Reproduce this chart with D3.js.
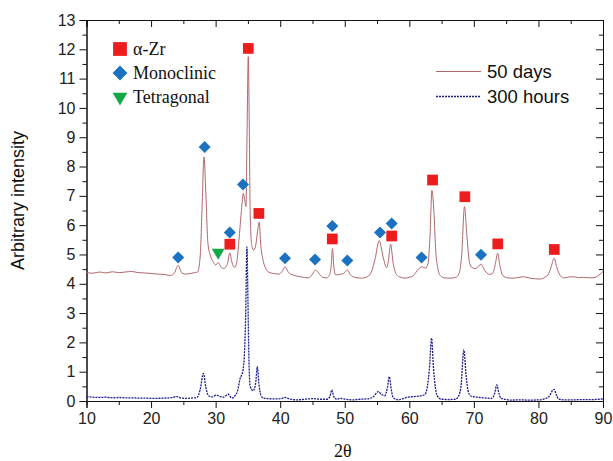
<!DOCTYPE html>
<html>
<head>
<meta charset="utf-8">
<script src="https://cdn.jsdelivr.net/npm/d3@7"></script>
<style>
  body { margin: 0; background: #fff; }
  svg { display: block; }
  .tick text { font-family: "Liberation Sans", Arial, sans-serif; font-size: 16px; fill: #222; }
</style>
</head>
<body>
<svg width="613" height="461"></svg>
<script>
// XRD patterns, [2theta, intensity]
const days50 = [
  [10,4.38],[11,4.36],[12,4.40],[13,4.37],[14,4.41],[15,4.38],[16,4.40],[17,4.42],[18,4.38],[19,4.37],
  [20,4.35],[21,4.33],[22,4.32],[23,4.28],[23.6,4.36],[24.2,4.63],[24.8,4.36],[25.5,4.33],[26.5,4.37],
  [27.2,4.40],[27.6,4.9],[27.9,6.6],[28.2,8.33],[28.5,7.0],[28.8,5.4],[29.2,4.95],[29.6,4.76],[30.0,4.64],
  [30.4,4.72],[30.8,4.58],[31.3,4.52],[31.8,4.66],[32.2,5.05],[32.5,4.75],[33.0,4.56],[33.4,4.95],
  [33.7,5.72],[34.0,6.5],[34.3,7.09],[34.5,6.85],[34.7,6.63],[34.85,8.8],[35.06,11.75],[35.2,9.6],
  [35.35,6.5],[35.6,5.3],[35.9,5.15],[36.2,5.3],[36.5,5.8],[36.75,6.1],[37.0,5.3],[37.3,4.85],[37.7,4.55],
  [38.2,4.4],[39.0,4.35],[39.8,4.33],[40.3,4.42],[40.75,4.58],[41.3,4.38],[42.0,4.30],[43.1,4.24],
  [44.4,4.2],[45.0,4.33],[45.5,4.47],[46.0,4.35],[46.6,4.22],[47.2,4.2],[47.6,4.28],[47.9,4.6],
  [48.1,5.2],[48.3,4.6],[48.6,4.30],[49.2,4.32],[49.8,4.35],[50.4,4.47],[50.9,4.3],[51.6,4.22],
  [52.6,4.19],[53.5,4.24],[54.2,4.45],[54.7,4.85],[55.35,5.47],[55.9,4.95],[56.5,4.55],[56.8,4.85],
  [57.1,5.35],[57.5,4.70],[58.0,4.32],[58.7,4.22],[59.3,4.19],[60.0,4.22],[60.6,4.27],[61.4,4.50],
  [62.0,4.58],[62.5,4.53],[62.9,4.7],[63.2,5.6],[63.5,7.18],[63.8,6.5],[64.1,5.1],[64.4,4.55],
  [64.8,4.28],[65.5,4.2],[66.3,4.19],[67.2,4.22],[67.7,4.35],[68.1,4.95],[68.55,6.63],[68.9,5.7],
  [69.3,4.75],[69.7,4.55],[70.3,4.52],[71.1,4.67],[71.7,4.45],[72.4,4.32],[72.9,4.35],[73.3,4.65],
  [73.7,5.04],[74.0,4.65],[74.5,4.28],[75.3,4.2],[76.1,4.19],[77.0,4.22],[77.7,4.24],[78.7,4.19],
  [79.5,4.17],[80.2,4.16],[81.0,4.22],[81.6,4.35],[82.0,4.6],[82.45,4.87],[82.8,4.6],[83.2,4.35],
  [83.9,4.2],[84.7,4.23],[85.4,4.24],[86.2,4.21],[87.0,4.22],[88.0,4.20],[88.8,4.22],[89.4,4.30],[90,4.42]
];

const hours300 = [
  [10,0.15],[11,0.13],[12,0.12],[13,0.13],[14,0.11],[15,0.12],[16,0.11],[17,0.11],[18,0.10],[19,0.10],
  [20,0.09],[21,0.09],[22,0.10],[23,0.11],[24,0.15],[24.7,0.10],[25.5,0.09],[26.3,0.10],[27.1,0.12],
  [27.6,0.38],[28.1,0.94],[28.5,0.45],[28.9,0.18],[29.5,0.14],[30.1,0.20],[30.6,0.16],[31.2,0.13],
  [31.95,0.23],[32.5,0.10],[33.0,0.18],[33.4,0.35],[33.8,0.77],[34.2,1.0],[34.5,1.8],[34.65,2.9],
  [34.85,5.26],[35.0,3.5],[35.15,1.5],[35.35,0.5],[35.8,0.35],[36.2,0.6],[36.45,1.17],[36.7,0.6],
  [37.0,0.2],[37.4,0.1],[38.2,0.08],[39.0,0.07],[40.0,0.08],[40.75,0.12],[41.5,0.07],[42.6,0.04],
  [43.8,0.06],[45.1,0.08],[46.2,0.06],[47.2,0.06],[47.7,0.15],[48.0,0.38],[48.3,0.15],[48.75,0.06],
  [49.3,0.09],[50.2,0.06],[51.3,0.04],[52.4,0.06],[53.4,0.07],[54.4,0.14],[55.2,0.32],[55.7,0.22],
  [56.2,0.18],[56.6,0.45],[56.9,0.83],[57.2,0.4],[57.5,0.12],[58.3,0.04],[59.0,0.08],[59.6,0.12],
  [60.6,0.15],[61.65,0.17],[62.4,0.22],[62.8,0.5],[63.1,1.06],[63.45,2.14],[63.75,1.1],[64.05,0.45],
  [64.3,0.18],[65.0,0.06],[66.0,0.05],[67.1,0.06],[67.7,0.2],[68.0,0.5],[68.45,1.74],[68.8,0.85],
  [69.1,0.35],[69.5,0.17],[70.2,0.14],[70.95,0.12],[71.9,0.10],[72.8,0.09],[73.2,0.25],[73.55,0.55],
  [73.9,0.25],[74.2,0.09],[75.0,0.05],[75.6,0.03],[77.0,0.04],[78.5,0.03],[80.2,0.04],[81.0,0.08],
  [81.6,0.14],[82.4,0.40],[82.8,0.2],[83.1,0.07],[84.0,0.04],[85.4,0.04],[87.0,0.05],[88.5,0.05],[90,0.07]
];

// phase markers [2theta, intensity]
const alphaZr = [[32.2,5.35],[35.06,12.03],[36.7,6.4],[48.07,5.53],[57.27,5.63],[63.6,7.54],[68.6,6.97],[73.7,5.36],[82.45,5.17]];
const monoclinic = [[24.2,4.90],[28.3,8.67],[32.2,5.75],[34.24,7.39],[40.75,4.87],[45.4,4.83],[48.07,5.97],[50.4,4.79],[55.46,5.75],[57.27,6.06],[61.9,4.90],[71.1,4.99]];
const tetragonal = [[30.4,5.07]];

const phaseNames = ["\u03b1-Zr", "Monoclinic", "Tetragonal"];
const seriesNames = ["50 days", "300 hours"];

const margin = { top: 20, right: 10, bottom: 60, left: 86.5 },
    width = 613 - margin.left - margin.right,
    height = 461 - margin.top - margin.bottom;

const x = d3.scaleLinear().domain([10, 90]).range([0, width]);
const y = d3.scaleLinear().domain([0, 13]).range([height, 0]);

const svg = d3.select("svg")
    .append("g")
    .attr("transform", "translate(" + margin.left + "," + margin.top + ")");

const red = "#ee1c1c", blue = "#1a72c0", green = "#14a84a";

// minor ticks first (no labels)
svg.append("g")
    .attr("transform", "translate(0," + height + ")")
    .call(d3.axisBottom(x).tickValues(d3.range(15, 90, 10)).tickSize(4).tickFormat(""));
svg.append("g")
    .call(d3.axisLeft(y).tickValues(d3.range(0.5, 13, 1)).tickSize(4).tickFormat(""));
svg.append("g")
    .call(d3.axisTop(x).tickValues(d3.range(15, 90, 10)).tickSize(-4).tickFormat(""));
svg.append("g")
    .attr("transform", "translate(" + width + ",0)")
    .call(d3.axisRight(y).tickValues(d3.range(0.5, 13, 1)).tickSize(-4).tickFormat(""));

// major ticks
svg.append("g")
    .attr("transform", "translate(0," + height + ")")
    .call(d3.axisBottom(x).tickValues(d3.range(10, 91, 10)).tickSize(7).tickPadding(5));
svg.append("g")
    .call(d3.axisLeft(y).tickValues(d3.range(0, 14, 1)).tickSize(7).tickPadding(4));
svg.append("g")
    .call(d3.axisTop(x).tickValues(d3.range(10, 91, 10)).tickSize(-7).tickFormat(""));
svg.append("g")
    .attr("transform", "translate(" + width + ",0)")
    .call(d3.axisRight(y).tickValues(d3.range(0, 14, 1)).tickSize(-7).tickFormat(""));

svg.selectAll(".domain").attr("stroke", "#111");
svg.selectAll(".tick line").attr("stroke", "#111");

// curves
const line = d3.line()
    .curve(d3.curveMonotoneX)
    .x(function(d) { return x(d[0]) })
    .y(function(d) { return y(d[1]) });

svg.append("path")
    .datum(days50)
    .attr("fill", "none")
    .attr("stroke", "#b1676c")
    .attr("stroke-width", 1)
    .attr("d", line);

svg.append("path")
    .datum(hours300)
    .attr("fill", "none")
    .attr("stroke", "#1c1c8c")
    .attr("stroke-width", 1.3)
    .attr("stroke-dasharray", "2,1")
    .attr("d", line);

// phase markers
const square = d3.symbol().type(d3.symbolSquare).size(115);
const diamond = d3.symbol().type(d3.symbolSquare).size(72);
const tri = d3.symbol().type(d3.symbolTriangle).size(70);

svg.selectAll(".zr").data(alphaZr).enter().append("path")
    .attr("d", square)
    .attr("fill", red)
    .attr("transform", function(d) { return "translate(" + x(d[0]) + "," + y(d[1]) + ")" });

svg.selectAll(".mono").data(monoclinic).enter().append("path")
    .attr("d", diamond)
    .attr("fill", blue)
    .attr("transform", function(d) { return "translate(" + x(d[0]) + "," + y(d[1]) + ") rotate(45)" });

svg.selectAll(".tet").data(tetragonal).enter().append("path")
    .attr("d", tri)
    .attr("fill", green)
    .attr("transform", function(d) { return "translate(" + x(d[0]) + "," + y(d[1]) + ") rotate(180)" });

// phase legend
const pl = svg.append("g").attr("transform", "translate(" + (120 - margin.left) + "," + (49 - margin.top) + ")");
pl.append("path").attr("d", d3.symbol().type(d3.symbolSquare).size(190)).attr("fill", red);
pl.append("path").attr("d", d3.symbol().type(d3.symbolSquare).size(110)).attr("fill", blue)
    .attr("transform", "translate(0,24) rotate(45)");
pl.append("path").attr("d", d3.symbol().type(d3.symbolTriangle).size(95)).attr("fill", green)
    .attr("transform", "translate(0,48) rotate(180)");
pl.selectAll("text").data(phaseNames).enter().append("text")
    .attr("x", 13)
    .attr("y", function(d, i) { return i * 24 + 6 })
    .attr("font-family", "'Liberation Serif', 'Times New Roman', serif")
    .attr("font-size", 18)
    .attr("fill", "#111")
    .text(function(d) { return d });

// series legend
const sl = svg.append("g").attr("transform", "translate(" + (436 - margin.left) + "," + (71.5 - margin.top) + ")");
sl.append("line").attr("x1", 0).attr("x2", 45).attr("y1", 0).attr("y2", 0)
    .attr("stroke", "#b1676c").attr("stroke-width", 1);
sl.append("line").attr("x1", 0).attr("x2", 45).attr("y1", 25).attr("y2", 25)
    .attr("stroke", "#1c1c8c").attr("stroke-width", 1.3).attr("stroke-dasharray", "2,1");
sl.selectAll("text").data(seriesNames).enter().append("text")
    .attr("x", 51)
    .attr("y", function(d, i) { return i * 25 + 6.5 })
    .attr("font-family", "'Liberation Sans', Arial, sans-serif")
    .attr("font-size", 18.5)
    .attr("fill", "#111")
    .text(function(d) { return d });

// axis titles
svg.append("text")
    .attr("text-anchor", "middle")
    .attr("transform", "translate(" + (24 - margin.left) + "," + (height / 2 - 10) + ") rotate(-90)")
    .attr("font-family", "'Liberation Sans', Arial, sans-serif")
    .attr("font-size", 18)
    .attr("fill", "#111")
    .text("Arbitrary intensity");

svg.append("text")
    .attr("text-anchor", "middle")
    .attr("x", x(50) - 2)
    .attr("y", 457 - margin.top)
    .attr("font-family", "'Liberation Serif', 'Times New Roman', serif")
    .attr("font-size", 18)
    .attr("fill", "#111")
    .text("2\u03b8");
</script>
</body>
</html>
